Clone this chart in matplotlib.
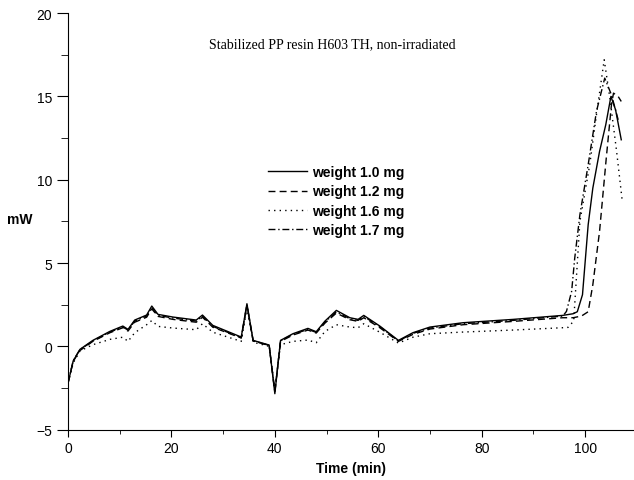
import numpy as np
import matplotlib
matplotlib.use('Agg')
import matplotlib.pyplot as plt
from matplotlib.ticker import MultipleLocator

plt.rcParams['font.family'] = ['Liberation Sans', 'DejaVu Sans']

# shared time points (min) for the low part of the curves
t_common = [0, 1, 2.3, 4.8, 8.1, 10.6, 11.6, 12.9, 15.2, 16.2, 17.4, 20.3, 24.8, 26.0, 28.0,
            33.5, 34.6, 35.8, 38.9, 40.0, 41.1, 43.5, 46.4, 48.0, 49.7, 51.9, 54.5, 56.1,
            57.2, 60.3, 63.9, 66.7, 70.0, 76.4, 86.1, 95.7]

w10_common = [-2.2, -0.88, -0.18, 0.36, 0.9, 1.22, 1.02, 1.58, 1.88, 2.42, 1.92, 1.76, 1.58, 1.88,
              1.26, 0.56, 2.56, 0.36, 0.08, -2.84, 0.36, 0.76, 1.08, 0.88, 1.52, 2.16, 1.72, 1.62,
              1.86, 1.22, 0.36, 0.82, 1.16, 1.42, 1.62, 1.86]
w12_common = [-2.2, -0.9, -0.25, 0.3, 0.82, 1.12, 0.92, 1.45, 1.75, 2.25, 1.8, 1.62, 1.45, 1.75,
              1.15, 0.5, 2.45, 0.32, 0.05, -2.7, 0.3, 0.68, 0.98, 0.8, 1.4, 2.0, 1.6, 1.5,
              1.72, 1.12, 0.3, 0.72, 1.04, 1.3, 1.5, 1.72]
w16_common = [-2.2, -1.0, -0.28, 0.1, 0.42, 0.55, 0.3, 0.82, 1.3, 1.55, 1.2, 1.1, 1.0, 1.36,
              0.85, 0.3, 2.3, 0.25, 0.0, -2.6, 0.1, 0.3, 0.38, 0.22, 0.9, 1.3, 1.16, 1.12,
              1.36, 0.85, 0.2, 0.55, 0.76, 0.86, 0.98, 1.12]
w17_common = [-2.2, -0.85, -0.2, 0.32, 0.86, 1.16, 0.98, 1.52, 1.82, 2.32, 1.86, 1.7, 1.52, 1.82,
              1.2, 0.52, 2.5, 0.34, 0.06, -2.75, 0.34, 0.72, 1.02, 0.84, 1.46, 2.08, 1.66, 1.56,
              1.8, 1.18, 0.32, 0.78, 1.1, 1.36, 1.56, 1.82]

# oxidation peak (tail) of each curve
w10_t = [97.7, 98.5, 99.5, 100.6, 101.5, 102.8, 104.0, 105.0, 105.9, 107.0]
w10_y = [1.96, 2.08, 3.1, 7.3, 9.5, 11.7, 13.3, 15.0, 14.2, 12.4]
w12_t = [97.7, 99.3, 100.6, 101.5, 102.8, 104.1, 105.1, 105.5, 106.4, 107.0]
w12_y = [1.72, 1.82, 2.08, 3.7, 6.9, 11.3, 14.5, 15.2, 15.0, 14.7]
w16_t = [96.7, 97.8, 99.0, 100.9, 102.2, 103.7, 104.8, 106.1, 107.2]
w16_y = [1.14, 1.52, 7.5, 10.9, 13.9, 17.2, 14.9, 11.7, 8.7]
w17_t = [96.4, 97.4, 98.0, 99.0, 100.6, 102.2, 103.8, 105.1, 106.4]
w17_y = [2.1, 3.3, 5.3, 7.9, 10.9, 14.1, 16.1, 15.1, 13.6]

labels = ['weight 1.0 mg', 'weight 1.2 mg', 'weight 1.6 mg', 'weight 1.7 mg']

fig = plt.figure(figsize=(6.34, 4.81), dpi=100)
ax = fig.add_axes([0.1073, 0.1046, 0.893, 0.866])

ax.plot(t_common + w10_t, w10_common + w10_y, color='black', lw=1.0, linestyle='-', label=labels[0])
ax.plot(t_common + w12_t, w12_common + w12_y, color='black', lw=1.0, linestyle=(0, (5, 3)), label=labels[1])
ax.plot(t_common + w16_t, w16_common + w16_y, color='black', lw=1.0, linestyle=(0, (1, 3)), label=labels[2])
ax.plot(t_common + w17_t, w17_common + w17_y, color='black', lw=1.0, linestyle=(0, (5, 2, 1, 2)), label=labels[3])

ax.set_xlim(0, 109.5)
ax.set_ylim(-5, 20)
ax.xaxis.set_major_locator(MultipleLocator(20))
ax.xaxis.set_minor_locator(MultipleLocator(10))
ax.yaxis.set_major_locator(MultipleLocator(5))
ax.yaxis.set_minor_locator(MultipleLocator(2.5))
ax.spines['top'].set_visible(False)
ax.spines['right'].set_visible(False)
ax.tick_params(axis='x', which='major', length=5, labelsize=10)
ax.tick_params(axis='x', which='minor', length=3)
ax.tick_params(axis='y', which='major', length=8, labelsize=10)
ax.tick_params(axis='y', which='minor', length=5)

ax.set_xlabel('Time (min)', fontsize=10, fontweight='bold')
ax.set_ylabel('mW', fontsize=10, fontweight='bold', rotation=0, va='center', ha='center')
ax.yaxis.set_label_coords(-0.085, 0.505)

ax.text(0.466, 0.926, 'Stabilized PP resin H603 TH, non-irradiated', transform=ax.transAxes,
        ha='center', va='center', fontsize=10, family='Liberation Serif')

ax.legend(loc='upper left', bbox_to_anchor=(0.353, 0.635), frameon=False, borderpad=0,
          borderaxespad=0, handlelength=2.8, handletextpad=0.36, labelspacing=0.38,
          prop={'weight': 'bold', 'size': 10})

fig.savefig('out.png', dpi=100)
